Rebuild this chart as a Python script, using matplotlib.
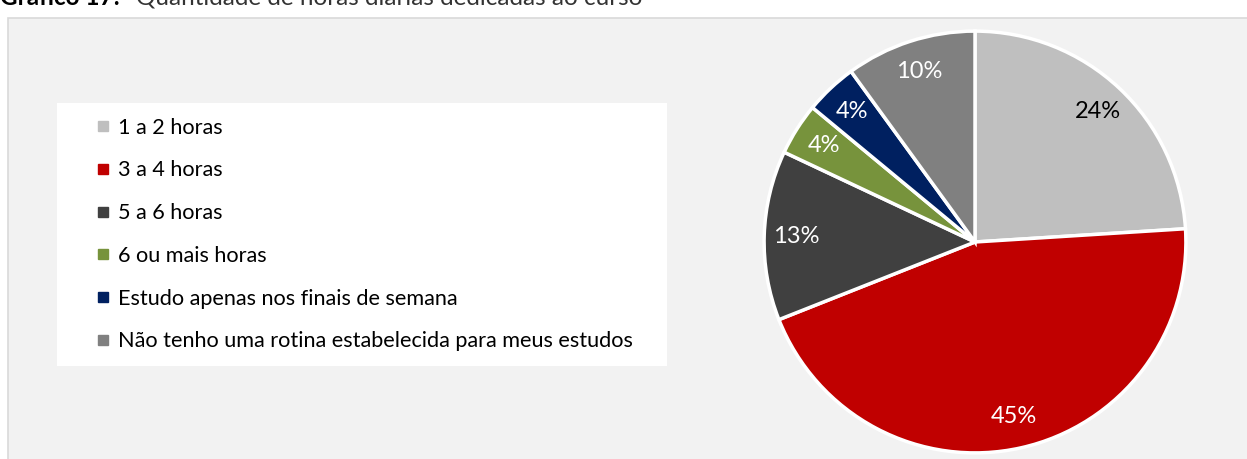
import matplotlib.pyplot as plt
from matplotlib.lines import Line2D
from matplotlib.patches import Rectangle

# Gráfico 17: horas diárias dedicadas ao curso
categorias = ["1 a 2 horas", "3 a 4 horas", "5 a 6 horas", "6 ou mais horas",
              "Estudo apenas nos finais de semana",
              "Não tenho uma rotina estabelecida para meus estudos"]
percentuais = [24, 45, 13, 4, 4, 10]
cores = ["#BFBFBF", "#C00000", "#404040", "#77933C", "#002060", "#808080"]
cor_rotulo = ["black", "white", "white", "white", "white", "white"]

plt.rcParams["font.family"] = ["Lato", "DejaVu Sans"]

W, H = 1247, 459
fig = plt.figure(figsize=(W / 100, H / 100), dpi=100)
fig.patch.set_facecolor("white")

# fundo cinza da área do gráfico
fig.add_artist(Rectangle((8 / W, -0.01), 1.0, (H - 18) / H + 0.01,
                         transform=fig.transFigure, facecolor="#F2F2F2",
                         edgecolor="#D9D9D9", linewidth=1.2, zorder=-2))

# título (cortado no topo da imagem, como no original)
fig.text(0 / W, 1 - 5 / H, "Gráfico 17:", fontsize=17.5, fontweight="bold",
         va="baseline", ha="left")
fig.text(136 / W, 1 - 5 / H, "Quantidade de horas diárias dedicadas ao curso",
         fontsize=17.5, va="baseline", ha="left", color="#333333")

# pizza
cx, cy, r = 975, 242, 213
ax = fig.add_axes([(cx - r) / W, (H - cy - r) / H, 2 * r / W, 2 * r / H])
wedges, textos, autotextos = ax.pie(
    percentuais, colors=cores, startangle=90, counterclock=False,
    autopct="%.0f%%", pctdistance=0.85,
    wedgeprops=dict(edgecolor="white", linewidth=2.5),
    textprops=dict(fontsize=17))
for t, c in zip(autotextos, cor_rotulo):
    t.set_color(c)
ax.set_xlim(-1.01, 1.01)
ax.set_ylim(-1.01, 1.01)
ax.set_aspect("equal")
ax.axis("off")

# legenda sobre caixa branca
fig.add_artist(Rectangle((57 / W, (H - 366) / H), 610 / W, 263 / H,
                         transform=fig.transFigure, facecolor="white",
                         edgecolor="none", zorder=-1))
handles = [Line2D([], [], marker="s", linestyle="none", markersize=7,
                  markerfacecolor=c, markeredgecolor=c) for c in cores]
fig.legend(handles, categorias, loc="upper left",
           bbox_to_anchor=(88 / W, 1 - 109 / H), frameon=False,
           fontsize=15.6, labelspacing=1.05, handlelength=0.6,
           handletextpad=0.4, borderaxespad=0)

fig.savefig("out.png", dpi=100)
